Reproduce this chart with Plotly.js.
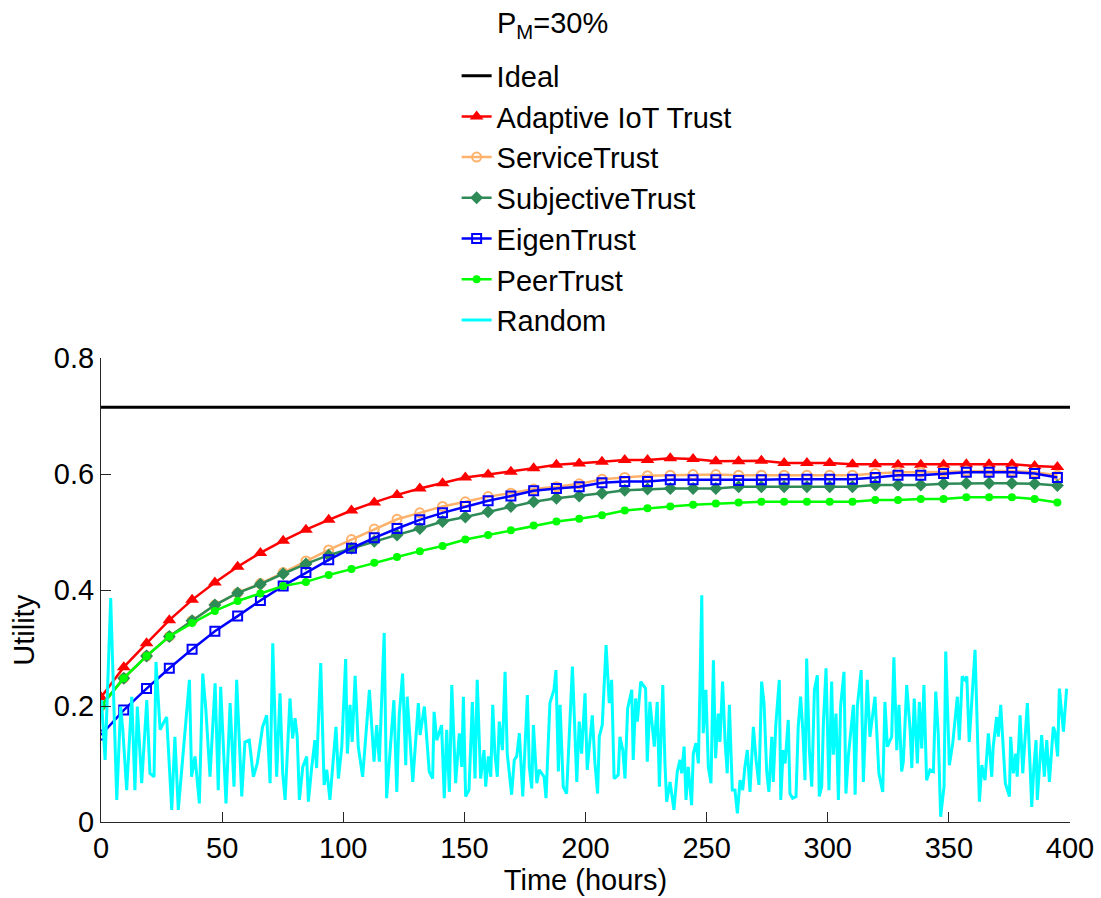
<!DOCTYPE html>
<html>
<head>
<meta charset="utf-8">
<script src="https://cdn.plot.ly/plotly-3.0.1.min.js"></script>
<style>
html,body{margin:0;padding:0;background:#fff;}
#chart{width:1101px;height:898px;}
</style>
</head>
<body>
<div id="chart"></div>
<script>
// ---- data ----
const markerX = [0, 9.4, 18.8, 28.2, 37.6, 47, 56.4, 65.8, 75.2, 84.6, 94, 103.4, 112.8, 122.2, 131.6, 141, 150.4, 159.8, 169.2, 178.6, 188, 197.4, 206.8, 216.2, 225.6, 235, 244.4, 253.8, 263.2, 272.6, 282, 291.4, 300.8, 310.2, 319.6, 329, 338.4, 347.8, 357.2, 366.6, 376, 385.4, 394.8];

const idealX = [0, 400];
const idealY = [0.715, 0.715];

const adaptiveY = [0.215, 0.267, 0.308, 0.348, 0.383, 0.413, 0.440, 0.464, 0.485, 0.504, 0.521, 0.537, 0.551, 0.564, 0.575, 0.584, 0.594, 0.599, 0.604, 0.610, 0.616, 0.618, 0.621, 0.624, 0.624, 0.627, 0.626, 0.622, 0.622, 0.623, 0.619, 0.619, 0.619, 0.617, 0.617, 0.616, 0.616, 0.616, 0.617, 0.617, 0.617, 0.614, 0.612];

const serviceY = [0.200, 0.248, 0.286, 0.320, 0.347, 0.374, 0.395, 0.411, 0.430, 0.450, 0.469, 0.487, 0.505, 0.522, 0.533, 0.544, 0.552, 0.561, 0.567, 0.574, 0.578, 0.583, 0.591, 0.594, 0.597, 0.598, 0.599, 0.599, 0.598, 0.598, 0.598, 0.598, 0.598, 0.598, 0.601, 0.603, 0.603, 0.604, 0.605, 0.605, 0.605, 0.603, 0.598];

const subjectiveY = [0.200, 0.248, 0.286, 0.320, 0.347, 0.374, 0.395, 0.410, 0.428, 0.445, 0.460, 0.472, 0.484, 0.495, 0.506, 0.518, 0.526, 0.535, 0.544, 0.552, 0.558, 0.562, 0.567, 0.572, 0.574, 0.575, 0.575, 0.575, 0.578, 0.578, 0.578, 0.578, 0.578, 0.578, 0.581, 0.581, 0.581, 0.583, 0.584, 0.584, 0.584, 0.583, 0.580];

const eigenY = [0.150, 0.193, 0.230, 0.265, 0.298, 0.329, 0.355, 0.382, 0.407, 0.430, 0.452, 0.472, 0.490, 0.506, 0.521, 0.533, 0.544, 0.554, 0.562, 0.571, 0.575, 0.578, 0.585, 0.587, 0.587, 0.590, 0.590, 0.590, 0.589, 0.590, 0.591, 0.591, 0.591, 0.591, 0.594, 0.598, 0.598, 0.601, 0.603, 0.603, 0.603, 0.601, 0.594];

const peerY = [0.199, 0.248, 0.286, 0.320, 0.343, 0.364, 0.381, 0.394, 0.407, 0.414, 0.426, 0.436, 0.447, 0.457, 0.467, 0.476, 0.487, 0.495, 0.503, 0.511, 0.518, 0.523, 0.529, 0.537, 0.541, 0.544, 0.547, 0.549, 0.551, 0.552, 0.552, 0.552, 0.552, 0.552, 0.555, 0.555, 0.557, 0.557, 0.560, 0.560, 0.560, 0.557, 0.551];

const randomX = [0.2,1.7,4.0,6.5,8.1,9.0,10.6,12.7,14.0,15.0,16.8,18.9,20.2,21.9,22.7,24.4,25.7,27.1,29.2,30.5,31.9,34.0,36.5,37.4,38.8,40.6,42.0,43.3,45.0,47.1,48.4,49.4,51.6,53.3,54.9,56.0,58.1,59.4,61.2,62.9,64.5,66.7,68.4,69.8,70.9,72.5,73.9,75.0,76.0,78.0,79.1,80.1,81.0,81.9,83.3,84.9,85.6,87.0,88.3,89.0,90.7,92.1,93.2,94.5,95.9,97.0,98.0,99.4,101.0,101.7,102.8,103.7,104.9,106.2,108.0,109.4,110.8,112.7,113.8,114.9,116.9,117.9,119.3,120.9,122.1,123.1,124.5,125.8,126.4,128.7,131.0,131.7,133.5,135.5,136.9,137.5,138.6,140.6,141.7,142.7,143.8,144.8,146.4,147.9,148.9,149.6,150.5,151.9,153.3,154.4,155.3,156.7,158.1,158.8,159.9,160.9,161.7,162.6,163.6,164.4,165.7,166.8,167.7,169.5,170.6,171.6,172.7,174.1,176.0,176.8,177.8,178.5,179.9,180.9,181.9,182.9,183.7,185.3,187.0,187.8,188.8,189.5,190.8,192.2,194.6,196.4,197.4,198.4,199.8,200.7,202.8,203.9,205.0,205.7,206.9,208.5,209.8,210.8,211.8,213.5,214.2,215.4,216.3,217.4,219.1,219.7,220.7,221.4,222.8,224.8,225.5,226.6,228.4,229.6,230.5,231.9,232.8,233.5,234.9,236.5,237.9,239.0,239.7,240.7,241.5,242.4,243.8,244.5,245.6,246.6,248.0,248.6,249.7,250.7,251.8,252.8,253.7,254.8,255.5,256.6,257.6,258.5,259.4,260.6,261.7,262.7,263.8,264.9,265.8,266.8,267.9,269.3,270.4,271.6,272.7,273.7,274.8,275.7,276.9,277.5,278.6,280.0,280.6,281.6,282.4,283.7,284.4,285.5,286.9,287.8,288.8,289.7,290.6,291.3,292.4,293.4,294.5,295.7,296.5,297.5,298.2,299.3,300.5,301.6,302.3,303.4,304.4,305.3,306.7,307.5,308.5,310.6,311.3,312.2,313.8,314.7,316.3,317.4,319.5,320.2,321.1,322.7,323.6,324.6,326.4,327.3,328.5,329.4,330.5,331.2,332.6,334.0,334.7,335.7,337.0,337.8,338.8,339.7,340.8,342.2,343.6,344.6,345.6,346.6,348.0,348.7,350.2,351.6,353.5,354.3,355.5,356.7,357.4,358.4,360.8,362.6,363.6,364.9,366.3,367.7,368.3,369.7,370.4,371.4,372.5,373.3,375.0,375.5,376.6,377.6,378.2,379.4,380.5,382.4,383.5,384.2,385.1,386.0,386.5,388.3,389.4,390.4,391.5,393.1,393.8,394.9,395.6,397.3,398.6];

const randomY = [0.210,0.107,0.386,0.038,0.199,0.159,0.055,0.216,0.055,0.199,0.067,0.210,0.084,0.078,0.276,0.159,0.170,0.181,0.021,0.147,0.021,0.130,0.245,0.078,0.113,0.032,0.256,0.193,0.078,0.239,0.055,0.233,0.032,0.205,0.061,0.245,0.044,0.138,0.141,0.078,0.101,0.164,0.184,0.067,0.308,0.078,0.222,0.084,0.038,0.213,0.144,0.179,0.147,0.038,0.095,0.113,0.035,0.095,0.141,0.093,0.274,0.064,0.090,0.038,0.113,0.164,0.075,0.130,0.281,0.118,0.202,0.138,0.252,0.130,0.078,0.147,0.228,0.104,0.167,0.104,0.326,0.041,0.124,0.210,0.052,0.184,0.256,0.098,0.216,0.069,0.205,0.150,0.199,0.087,0.075,0.190,0.141,0.167,0.041,0.159,0.052,0.236,0.067,0.153,0.095,0.216,0.044,0.055,0.207,0.075,0.245,0.075,0.124,0.061,0.113,0.078,0.202,0.118,0.078,0.173,0.124,0.259,0.118,0.047,0.107,0.113,0.153,0.044,0.219,0.095,0.058,0.167,0.067,0.090,0.084,0.078,0.041,0.205,0.228,0.262,0.087,0.202,0.061,0.049,0.268,0.069,0.173,0.118,0.222,0.090,0.184,0.101,0.049,0.147,0.167,0.305,0.205,0.245,0.075,0.081,0.147,0.124,0.075,0.196,0.228,0.107,0.213,0.173,0.242,0.230,0.104,0.207,0.130,0.207,0.061,0.236,0.101,0.035,0.069,0.021,0.087,0.107,0.084,0.130,0.038,0.095,0.029,0.118,0.136,0.101,0.391,0.153,0.228,0.095,0.067,0.279,0.110,0.187,0.138,0.242,0.141,0.084,0.202,0.055,0.055,0.015,0.072,0.055,0.095,0.124,0.052,0.164,0.107,0.064,0.242,0.205,0.087,0.052,0.147,0.069,0.170,0.245,0.038,0.124,0.101,0.176,0.049,0.041,0.044,0.164,0.216,0.159,0.072,0.282,0.124,0.061,0.228,0.253,0.044,0.061,0.170,0.265,0.055,0.242,0.116,0.187,0.038,0.199,0.259,0.049,0.113,0.202,0.047,0.199,0.262,0.069,0.245,0.147,0.216,0.147,0.084,0.052,0.207,0.130,0.147,0.284,0.124,0.202,0.087,0.104,0.236,0.159,0.093,0.213,0.101,0.207,0.127,0.236,0.072,0.090,0.087,0.225,0.153,0.009,0.061,0.294,0.098,0.136,0.216,0.141,0.251,0.245,0.251,0.138,0.297,0.035,0.098,0.072,0.153,0.078,0.130,0.181,0.147,0.202,0.118,0.067,0.044,0.147,0.084,0.118,0.078,0.184,0.084,0.205,0.098,0.026,0.095,0.141,0.038,0.150,0.078,0.141,0.069,0.164,0.156,0.113,0.230,0.156,0.230];

const seriesNames = ['Ideal', 'Adaptive IoT Trust', 'ServiceTrust', 'SubjectiveTrust', 'EigenTrust', 'PeerTrust', 'Random'];
const xTicks = [0, 50, 100, 150, 200, 250, 300, 350, 400];
const yTicks = [0, 0.2, 0.4, 0.6, 0.8];

// ---- styles ----
const FONT = 'Liberation Sans, Arial, Helvetica, sans-serif';
const traces = [
  {x: idealX, y: idealY, name: seriesNames[0], mode: 'lines', line: {color: '#000000', width: 3}},
  {x: markerX, y: adaptiveY, name: seriesNames[1], mode: 'lines+markers', line: {color: '#FF0000', width: 2.5},
   marker: {symbol: 'triangle-up', size: 12, color: '#FF0000'}},
  {x: markerX, y: serviceY, name: seriesNames[2], mode: 'lines+markers', line: {color: '#FFB26B', width: 2.5},
   marker: {symbol: 'circle-open', size: 9, color: '#FFB26B', line: {width: 2}}},
  {x: markerX, y: subjectiveY, name: seriesNames[3], mode: 'lines+markers', line: {color: '#2E8B57', width: 2.5},
   marker: {symbol: 'diamond', size: 10, color: '#2E8B57'}},
  {x: markerX, y: eigenY, name: seriesNames[4], mode: 'lines+markers', line: {color: '#0000FF', width: 2.5},
   marker: {symbol: 'square-open', size: 9, color: '#0000FF', line: {width: 2}}},
  {x: markerX, y: peerY, name: seriesNames[5], mode: 'lines+markers', line: {color: '#00FF00', width: 2.5},
   marker: {symbol: 'circle', size: 8, color: '#00FF00'}},
  {x: randomX, y: randomY, name: seriesNames[6], mode: 'lines', line: {color: '#00FFFF', width: 3}}
];

const axisCommon = {
  showgrid: false, zeroline: false, showline: true, linecolor: '#262626', linewidth: 1,
  ticks: 'inside', ticklen: 10, tickcolor: '#262626', tickwidth: 1,
  tickfont: {family: FONT, size: 29, color: '#000'}, mirror: false
};

const layout = {
  width: 1101, height: 898,
  margin: {l: 101, r: 31, t: 358, b: 76},
  paper_bgcolor: '#fff', plot_bgcolor: '#fff',
  font: {family: FONT, color: '#000'},
  xaxis: Object.assign({}, axisCommon, {
    range: [0, 400], tickvals: xTicks,
    title: {text: 'Time (hours)', font: {family: FONT, size: 29, color: '#000'}, standoff: 4}
  }),
  yaxis: Object.assign({}, axisCommon, {
    range: [0, 0.8], tickvals: yTicks, ticktext: ['0', '0.2', '0.4', '0.6', '0.8'],
    title: {text: 'Utility&nbsp;&nbsp;&nbsp;&nbsp;&nbsp;&nbsp;&nbsp;&nbsp;&nbsp;&nbsp;', font: {family: FONT, size: 29, color: '#000'}, standoff: 10}
  }),
  showlegend: true,
  legend: {
    x: 0.367, xanchor: 'left', y: 1.663, yanchor: 'top',
    bgcolor: 'rgba(0,0,0,0)', borderwidth: 0,
    font: {family: FONT, size: 29, color: '#000'},
    traceorder: 'normal'
  },
  annotations: [{
    text: 'P<sub>M</sub>=30%', xref: 'paper', yref: 'paper', x: 0.4066, y: 1.717,
    xanchor: 'left', yanchor: 'middle', showarrow: false,
    font: {family: FONT, size: 29, color: '#000'}
  }]
};

Plotly.newPlot('chart', traces, layout, {displayModeBar: false, staticPlot: true});
</script>
</body>
</html>
